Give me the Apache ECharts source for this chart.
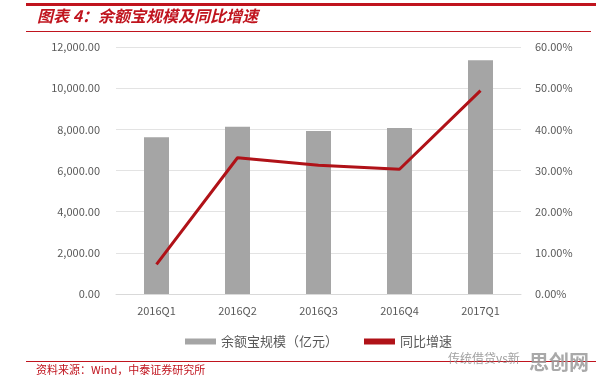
<!DOCTYPE html>
<html>
<head>
<meta charset="utf-8">
<script src="https://cdn.jsdelivr.net/npm/echarts@6/dist/echarts.min.js"></script>
<style>
  html, body { margin: 0; padding: 0; background: #fff; }
  #main { width: 596px; height: 383px; }
</style>
</head>
<body>
<div id="main"></div>
<script>
// 数据
var quarters = ['2016Q1', '2016Q2', '2016Q3', '2016Q4', '2017Q1'];
var scale = [7610, 8130, 7920, 8070, 11360];   // 余额宝规模（亿元）
var growth = [7.2, 33.1, 31.3, 30.3, 49.4];    // 同比增速 %

var red = '#c0141e';
var cjk = '"Noto Sans CJK SC", "Noto Sans", sans-serif';

var chart = echarts.init(document.getElementById('main'));

var option = {
  animation: false,
  backgroundColor: '#fff',
  textStyle: { fontFamily: cjk },
  grid: { left: 116, right: 75, top: 47, bottom: 89 },
  legend: {
    bottom: 30,
    left: 180,
    itemGap: 26,
    itemWidth: 31,
    itemHeight: 6,
    textStyle: { color: '#595959', fontSize: 13 },
    data: [
      { name: '余额宝规模（亿元）', icon: 'rect' },
      { name: '同比增速', icon: 'rect', itemStyle: { color: '#b01218' } }
    ]
  },
  xAxis: {
    type: 'category',
    data: quarters,
    axisTick: { show: false },
    axisLine: { lineStyle: { color: '#d9d9d9' } },
    axisLabel: { color: '#595959', fontSize: 11, margin: 11 }
  },
  yAxis: [
    {
      type: 'value',
      min: 0, max: 12000, interval: 2000,
      axisLine: { show: false },
      axisTick: { show: false },
      splitLine: { lineStyle: { color: '#e3e3e3' } },
      axisLabel: {
        color: '#595959', fontSize: 11, margin: 16,
        formatter: function (v) {
          return v.toLocaleString('en-US', { minimumFractionDigits: 2, maximumFractionDigits: 2 });
        }
      }
    },
    {
      type: 'value',
      min: 0, max: 60, interval: 10,
      axisLine: { show: false },
      axisTick: { show: false },
      splitLine: { show: false },
      axisLabel: {
        color: '#595959', fontSize: 11, margin: 14,
        formatter: function (v) { return v.toFixed(2) + '%'; }
      }
    }
  ],
  series: [
    {
      name: '余额宝规模（亿元）',
      type: 'bar',
      data: scale,
      barWidth: 25,
      itemStyle: { color: '#a5a5a5' }
    },
    {
      name: '同比增速',
      type: 'line',
      yAxisIndex: 1,
      data: growth,
      symbol: 'none',
      lineStyle: { color: '#b01218', width: 3 },
      itemStyle: { color: '#b01218' }
    }
  ],
  graphic: [
    { type: 'rect', shape: { x: 26, y: 3, width: 570, height: 3 }, style: { fill: red } },
    { type: 'text', left: 37, top: 8,
      style: { text: '图表 4：余额宝规模及同比增速', fill: red, font: 'italic bold 16px ' + cjk } },
    { type: 'rect', shape: { x: 26, y: 31, width: 565, height: 1 }, style: { fill: red } },
    { type: 'rect', shape: { x: 26, y: 361, width: 570, height: 1 }, style: { fill: red } },
    { type: 'text', left: 36, top: 364,
      style: { text: '资料来源：Wind，中泰证券研究所', fill: red, font: '11px ' + cjk } },
    { type: 'text', left: 448, top: 352,
      style: { text: '传统借贷vs新', fill: '#8a8a8a', font: '12px ' + cjk, opacity: 0.8 } },
    { type: 'text', left: 529, top: 352,
      style: { text: '思创网', fill: '#9a9a9a', font: 'bold 20px ' + cjk, opacity: 0.85 } }
  ]
};

chart.setOption(option);
</script>
</body>
</html>
